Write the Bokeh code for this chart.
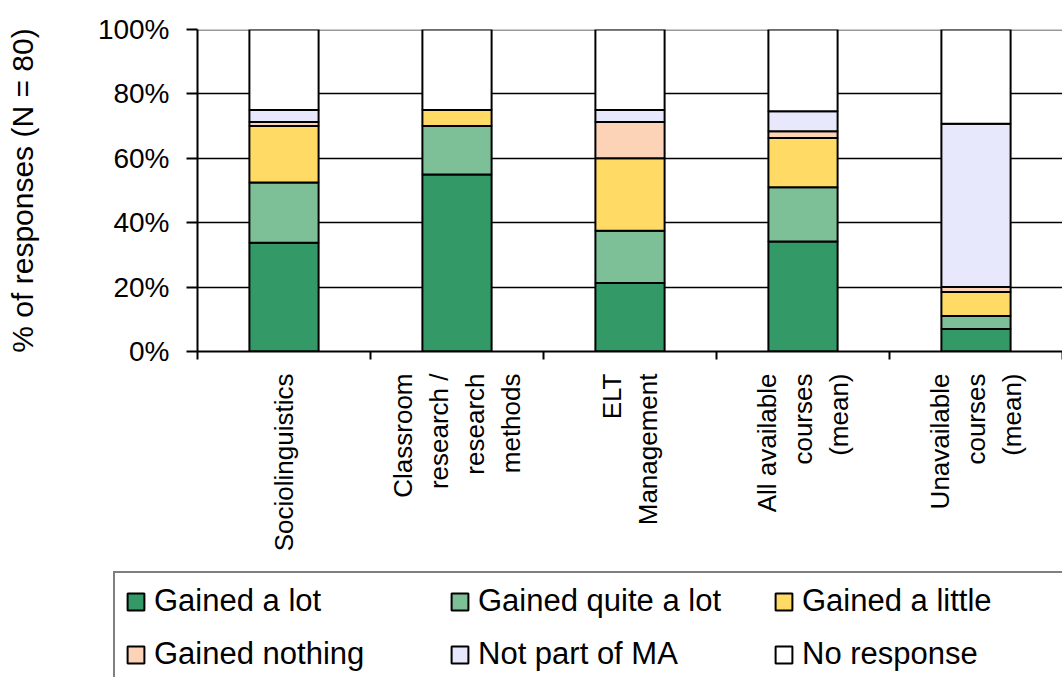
import numpy as np
from bokeh.plotting import figure
from bokeh.layouts import column
from bokeh.models import (ColumnDataSource, FixedTicker, Legend, LegendItem,
                          Range1d, Span)
from bokeh.embed import file_html
from bokeh.resources import INLINE

# Courses rated by respondents (share of N = 80, in %)
categories = [
    "Sociolinguistics",
    "Classroom\nresearch /\nresearch\nmethods",
    "ELT\nManagement",
    "All available\ncourses\n(mean)",
    "Unavailable\ncourses\n(mean)",
]
gained_a_lot = [33.75, 55.0, 21.25, 34.2, 7.0]
gained_quite_a_lot = [18.75, 15.0, 16.25, 16.8, 4.0]
gained_a_little = [17.5, 5.0, 22.5, 15.3, 7.5]
gained_nothing = [1.25, 0.0, 11.25, 2.1, 1.5]
not_part_of_ma = [3.75, 0.0, 3.75, 6.2, 50.7]
no_response = [25.0, 25.0, 25.0, 25.4, 29.3]

series_names = ["Gained a lot", "Gained quite a lot", "Gained a little",
                "Gained nothing", "Not part of MA", "No response"]
series_keys = ["lot", "quite", "little", "nothing", "notpart", "noresp"]
series_colors = ["#339966", "#7dbf97", "#ffdb66", "#fcd3b6", "#e8e8fc", "#ffffff"]

FONT = "Liberation Sans"

# category slots sit at 0.5, 1.5, ... so tick marks can fall between bars
xpos = np.arange(len(categories)) + 0.5
source = ColumnDataSource(dict(
    x=xpos,
    lot=gained_a_lot,
    quite=gained_quite_a_lot,
    little=gained_a_little,
    nothing=gained_nothing,
    notpart=not_part_of_ma,
    noresp=no_response,
))

bar_style = dict(x="x", width=0.4, fill_color=series_colors,
                 line_color="black", line_width=2)

p = figure(width=1062, height=560, output_backend="svg", toolbar_location=None,
           x_range=Range1d(0, len(categories)), y_range=Range1d(0, 100),
           min_border_left=197, min_border_right=0, min_border_top=29,
           min_border_bottom=209)
p.outline_line_color = None
p.background_fill_color = "white"
p.border_fill_color = "white"

renderers = p.vbar_stack(series_keys, source=source, **bar_style)

# grid: black lines at 20..80, grey rule at the top
p.xgrid.visible = False
p.ygrid.ticker = FixedTicker(ticks=[20, 40, 60, 80])
p.ygrid.grid_line_color = "black"
p.ygrid.grid_line_width = 1.5
p.ygrid.level = "underlay"
p.add_layout(Span(location=100, dimension="width", line_color="#9a9a9a",
                  line_width=3, level="underlay"))

# y axis
yt = [0, 20, 40, 60, 80, 100]
p.yaxis.ticker = FixedTicker(ticks=yt)
p.yaxis.major_label_overrides = {v: f"{v}%" for v in yt}
p.yaxis.axis_label = "% of responses (N = 80)"
p.yaxis.axis_label_text_font = FONT
p.yaxis.axis_label_text_font_style = "normal"
p.yaxis.axis_label_text_font_size = "30px"
p.yaxis.axis_label_text_color = "black"
p.yaxis.axis_label_standoff = 56
p.yaxis.major_label_text_font = FONT
p.yaxis.major_label_text_font_size = "28px"
p.yaxis.major_label_text_color = "black"
p.yaxis.major_label_standoff = 17
p.yaxis.major_tick_out = 11
p.yaxis.major_tick_in = 0
p.yaxis.minor_tick_line_color = None
p.yaxis.axis_line_width = 2
p.yaxis.major_tick_line_width = 2
p.yaxis.axis_line_color = "black"
p.yaxis.major_tick_line_color = "black"

# x axis: labels under bars, tick marks between them
p.xaxis.ticker = FixedTicker(ticks=list(xpos),
                             minor_ticks=list(range(len(categories) + 1)))
p.xaxis.major_label_overrides = {float(x): c for x, c in zip(xpos, categories)}
p.xaxis.major_label_orientation = np.pi / 2
p.xaxis.major_label_text_font = FONT
p.xaxis.major_label_text_font_size = "26px"
p.xaxis.major_label_text_color = "black"
p.xaxis.major_label_standoff = 14
p.xaxis.major_tick_out = 0
p.xaxis.major_tick_in = 0
p.xaxis.major_tick_line_color = None
p.xaxis.minor_tick_out = 8
p.xaxis.minor_tick_in = 0
p.xaxis.minor_tick_line_width = 2
p.xaxis.minor_tick_line_color = "black"
p.xaxis.axis_line_width = 2
p.xaxis.axis_line_color = "black"

# legend strip underneath; the swatch stacks are flat and sit behind the legend box
lg = figure(width=1062, height=117, output_backend="svg", toolbar_location=None,
            x_range=Range1d(-1, len(categories)), y_range=Range1d(-1, 1),
            x_axis_type=None, y_axis_type=None,
            min_border=0, min_border_left=0, min_border_right=0,
            min_border_top=0, min_border_bottom=0)
lg.outline_line_color = None
lg.grid.visible = False
lg.border_fill_color = "white"
lg.background_fill_color = "white"
swatch = ColumnDataSource(dict(x=xpos, **{k: [0.0] * len(xpos) for k in series_keys}))
legend_renderers = lg.vbar_stack(series_keys, source=swatch, **bar_style)

# keep each plot's frame at its own borders
for fig in (p, lg):
    if "frame_align" in fig.properties():
        fig.frame_align = False

legend = Legend(
    items=[LegendItem(label=n, renderers=[r])
           for n, r in zip(series_names, legend_renderers)],
    orientation="horizontal", ncols=3,
    location=(113, -7),
    label_text_font=FONT, label_text_font_size="31px", label_text_color="black",
    glyph_width=21, glyph_height=21, label_standoff=8,
    label_width=278, label_height=34, spacing=17, padding=10,
    border_line_color="black", border_line_width=2,
    background_fill_color="white", background_fill_alpha=1.0,
    margin=0,
)
lg.add_layout(legend, "center")

layout = column(p, lg, spacing=0)
open("out.html", "w").write(file_html(layout, INLINE))
